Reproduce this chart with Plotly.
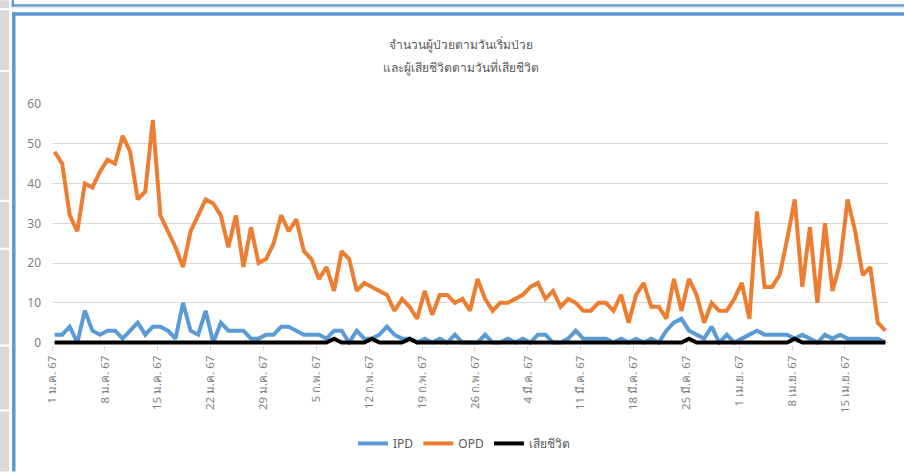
import pandas as pd
import plotly.graph_objects as go

# ---------------- data ----------------
start_date = "2024-01-01"
ipd = [2, 2, 4, 0, 8, 3, 2, 3, 3, 1, 3, 5, 2, 4, 4, 3, 1, 10, 3, 2,
       8, 0, 5, 3, 3, 3, 1, 1, 2, 2, 4, 4, 3, 2, 2, 2, 1, 3, 3, 0,
       3, 1, 1, 2, 4, 2, 1, 1, 0, 1, 0, 1, 0, 2, 0, 0, 0, 2, 0, 0,
       1, 0, 1, 0, 2, 2, 0, 0, 1, 3, 1, 1, 1, 1, 0, 1, 0, 1, 0, 1,
       0, 3, 5, 6, 3, 2, 1, 4, 0, 2, 0, 1, 2, 3, 2, 2, 2, 2, 1, 2,
       1, 0, 2, 1, 2, 1, 1, 1, 1, 1, 0]
opd = [48, 45, 32, 28, 40, 39, 43, 46, 45, 52, 48, 36, 38, 56, 32, 28, 24, 19, 28, 32,
       36, 35, 32, 24, 32, 19, 29, 20, 21, 25, 32, 28, 31, 23, 21, 16, 19, 13, 23, 21,
       13, 15, 14, 13, 12, 8, 11, 9, 6, 13, 7, 12, 12, 10, 11, 8, 16, 11, 8, 10,
       10, 11, 12, 14, 15, 11, 13, 9, 11, 10, 8, 8, 10, 10, 8, 12, 5, 12, 15, 9,
       9, 6, 16, 8, 16, 12, 5, 10, 8, 8, 11, 15, 6, 33, 14, 14, 17, 26, 36, 14,
       29, 10, 30, 13, 20, 36, 28, 17, 19, 5, 3]
deaths = [0] * 37 + [1] + [0] * 4 + [1] + [0] * 4 + [1] + [0] * 36 + [1] + [0] * 13 + [1] + [0] * 12
tick_labels = ["1 ม.ค. 67", "8 ม.ค. 67", "15 ม.ค. 67", "22 ม.ค. 67", "29 ม.ค. 67",
               "5 ก.พ. 67", "12 ก.พ. 67", "19 ก.พ. 67", "26 ก.พ. 67", "4 มี.ค. 67",
               "11 มี.ค. 67", "18 มี.ค. 67", "25 มี.ค. 67", "1 เม.ย. 67", "8 เม.ย. 67",
               "15 เม.ย. 67"]
y_ticks = [0, 10, 20, 30, 40, 50, 60]
title_lines = ["จำนวนผู้ป่วยตามวันเริ่มป่วย", "และผู้เสียชีวิตตามวันที่เสียชีวิต"]
series_names = ["IPD", "OPD", "เสียชีวิต"]

dates = pd.date_range(start_date, periods=len(opd), freq="D")
shift = pd.Timedelta(hours=8.4)
tick_dates = [dates[0] + pd.Timedelta(days=7 * k) - shift for k in range(len(tick_labels))]

FONT = "Noto Sans, Open Sans, sans-serif"
W, H = 904, 472
L, R, T, B = 52.4, 16.4, 104, 126.6
PW, PH = W - L - R, H - T - B


def px(x):
    return (x - L) / PW


def py(y):
    return (H - B - y) / PH


fig = go.Figure()
colors = ["#5B9BD5", "#ED7D31", "#000000"]
for name, vals, col in zip(series_names, [ipd, opd, deaths], colors):
    fig.add_trace(go.Scatter(x=dates, y=vals, name=name, mode="lines",
                             line=dict(color=col, width=4, shape="linear")))

shapes = []
# left sidebar
shapes.append(dict(type="rect", xref="paper", yref="paper", x0=px(0), x1=px(9.5),
                   y0=py(0), y1=py(472), fillcolor="#d9d9d9", line=dict(width=0), layer="below"))
for sy in [8, 70, 200, 248, 345, 410]:
    shapes.append(dict(type="rect", xref="paper", yref="paper", x0=px(0), x1=px(9.5),
                       y0=py(sy), y1=py(sy + 2), fillcolor="#ffffff", line=dict(width=0), layer="below"))
# top panel border
shapes.append(dict(type="rect", xref="paper", yref="paper", x0=px(12), x1=px(904),
                   y0=py(4), y1=py(6.5), fillcolor="#5B9BD5", line=dict(width=0), layer="below"))
shapes.append(dict(type="rect", xref="paper", yref="paper", x0=px(12), x1=px(904),
                   y0=py(6.5), y1=py(8), fillcolor="#e6e6e6", line=dict(width=0), layer="below"))
shapes.append(dict(type="rect", xref="paper", yref="paper", x0=px(12), x1=px(14.5),
                   y0=py(0), y1=py(6.5), fillcolor="#5B9BD5", line=dict(width=0), layer="below"))
# main card border
shapes.append(dict(type="rect", xref="paper", yref="paper", x0=px(12.5), x1=px(904),
                   y0=py(12), y1=py(15.5), fillcolor="#5B9BD5", line=dict(width=0), layer="below"))
shapes.append(dict(type="rect", xref="paper", yref="paper", x0=px(12.5), x1=px(16),
                   y0=py(12), y1=py(472), fillcolor="#5B9BD5", line=dict(width=0), layer="below"))

annotations = []
for i, (txt, yy) in enumerate(zip(title_lines, [44, 67])):
    annotations.append(dict(text=txt, xref="paper", yref="paper", x=px(461), y=py(yy),
                            xanchor="center", yanchor="middle", showarrow=False,
                            font=dict(family=FONT, size=12, color="#595959")))

fig.update_layout(
    width=W, height=H,
    margin=dict(l=L, r=R, t=T, b=B, pad=0),
    paper_bgcolor="#ffffff", plot_bgcolor="#ffffff",
    font=dict(family=FONT, size=12, color="#595959"),
    showlegend=True,
    legend=dict(orientation="h", x=px(464), xanchor="center", y=py(444), yanchor="middle",
                font=dict(family=FONT, size=12, color="#595959"), itemwidth=30,
                bgcolor="rgba(0,0,0,0)", traceorder="normal"),
    shapes=shapes,
    annotations=annotations,
    xaxis=dict(type="date", range=[dates[0] - shift, dates[-1] + shift],
               tickmode="array", tickvals=tick_dates, ticktext=tick_labels,
               tickangle=-90, showgrid=False, zeroline=False, showline=False,
               ticks="outside", ticklen=5, tickcolor="#d9d9d9",
               tickfont=dict(family=FONT, size=11.5, color="#7f7f7f")),
    yaxis=dict(range=[-0.6, 60], tickmode="array", tickvals=y_ticks,
               showgrid=True, gridcolor="#d9d9d9", gridwidth=1.3, zeroline=False,
               showline=False, ticks="", ticklabelstandoff=10,
               tickfont=dict(family=FONT, size=12, color="#7f7f7f")),
)

fig.write_html("out.html", config={"displayModeBar": False},
               post_script="document.body.style.margin='0';document.body.style.overflow='hidden';")
